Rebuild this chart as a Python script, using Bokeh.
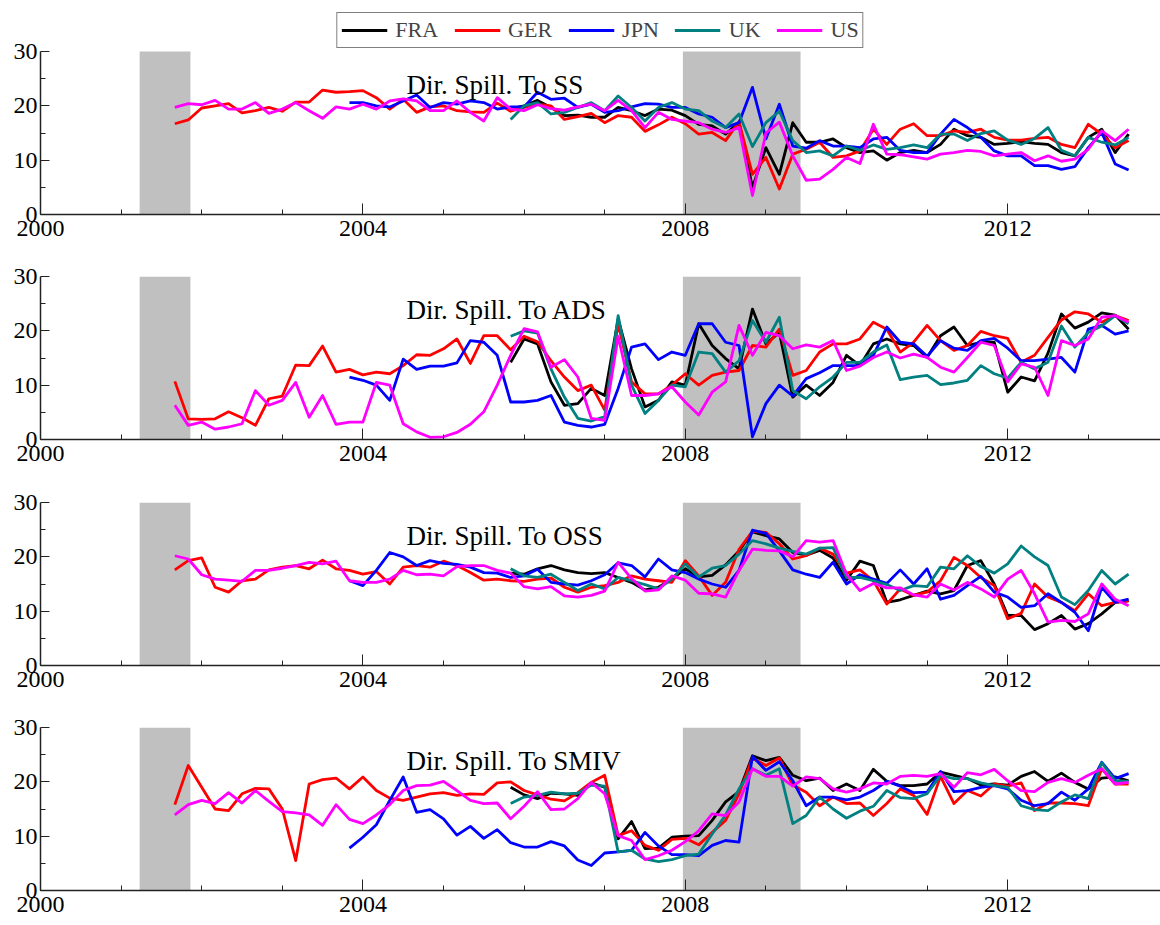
import numpy as np
from bokeh.plotting import figure
from bokeh.models import (Range1d, FixedTicker, PrintfTickFormatter, Legend,
                          LegendItem, Label, ColumnDataSource)
from bokeh.layouts import column
from bokeh.embed import file_html
from bokeh.resources import INLINE

# ---------------- data ----------------
countries = ["FRA", "GER", "JPN", "UK", "US"]
colors = ["#000000", "#ff0000", "#0000ff", "#008080", "#ff00ff"]
STEP = 2 / 12  # two-monthly readings
start_year = {"FRA": 2005 + 10 / 12, "GER": 2001 + 8 / 12, "JPN": 2003 + 10 / 12,
              "UK": 2005 + 10 / 12, "US": 2001 + 8 / 12}

rec_start = [2001.23, 2007.97]
rec_end = [2001.86, 2009.43]

panel_titles = ["Dir. Spill. To SS", "Dir. Spill. To ADS",
                "Dir. Spill. To OSS", "Dir. Spill. To SMIV"]
x_ticks = [2000, 2004, 2008, 2012]
x_minor = list(range(2000, 2015))
y_ticks = [0, 10, 20, 30]
y_minor = [5, 15, 25]

# Panel 1: SS
ss_fra = [19.5,20.0,21.0,19.7,18.2,18.3,17.9,17.9,19.7,19.1,18.2,19.4,19.2,18.2,16.6,16.3,14.8,16.9,5.0,12.3,7.4,16.9,13.3,13.3,13.9,12.3,11.4,11.7,10.0,11.4,11.8,11.4,12.9,15.7,14.5,14.2,12.9,13.1,13.4,13.1,12.9,11.4,10.8,14.2,15.7,11.4,14.8]
ss_ger = [16.7,17.4,19.6,20.0,20.4,18.7,19.1,19.7,19.0,20.7,20.7,22.9,22.5,22.6,22.8,21.5,19.4,21.2,18.8,19.8,20.0,19.1,18.9,18.8,20.5,19.0,19.7,20.3,20.0,17.5,18.0,18.6,16.9,18.2,17.9,15.3,16.5,17.9,16.7,14.8,15.1,13.6,17.1,7.4,10.5,4.7,11.1,12.0,13.3,10.5,10.8,11.7,15.7,12.9,15.7,16.7,14.5,14.5,15.4,15.1,15.7,14.2,13.7,13.7,14.0,14.2,12.9,12.3,16.6,14.8,12.3,13.6]
ss_jpn = [20.6,20.6,20.0,19.8,20.9,22.0,19.7,20.6,20.3,20.9,20.6,19.4,19.8,19.8,22.5,21.2,21.4,19.7,20.3,18.8,19.1,19.8,20.4,20.3,19.7,19.7,18.5,17.9,16.0,16.9,23.4,13.9,20.3,12.6,12.2,13.6,12.6,12.6,12.3,13.9,14.2,11.8,11.4,11.4,14.8,17.5,16.0,14.2,11.7,10.8,10.8,9.0,9.0,8.3,8.8,12.3,15.1,9.3,8.2]
ss_uk = [17.5,20.0,20.6,18.5,18.8,19.7,20.6,19.1,21.8,19.7,17.2,19.7,20.6,19.4,19.1,17.2,16.0,18.5,12.5,16.9,19.0,13.6,11.4,11.7,10.8,12.6,11.8,12.8,12.0,12.3,12.8,12.3,14.8,14.8,13.6,14.9,15.4,13.7,12.9,14.0,16.0,11.8,10.8,14.2,13.3,12.8,14.2]
ss_us = [19.7,20.4,20.2,21.0,19.4,19.4,20.6,18.6,19.4,20.6,19.1,17.7,19.8,19.4,20.3,19.4,20.9,21.3,20.9,19.1,19.1,20.9,18.8,17.2,21.5,19.4,19.1,20.2,19.5,19.2,19.8,20.3,19.1,21.0,19.1,16.0,18.8,17.5,17.2,16.9,15.7,15.1,16.0,3.5,15.0,17.0,10.8,6.3,6.5,8.3,10.5,9.4,16.6,11.1,11.0,10.6,10.2,11.1,11.4,11.8,11.6,10.8,11.1,11.4,9.9,10.8,9.8,10.2,12.0,15.4,13.6,15.7]

# Panel 2: ADS
ads_fra = [14.2,18.5,17.6,10.6,6.3,6.6,9.4,8.1,22.2,13.0,6.0,7.2,10.6,10.0,21.3,17.3,14.9,13.0,24.0,17.6,19.7,7.8,10.0,8.1,10.5,15.5,13.6,17.6,18.5,17.6,17.3,15.1,19.1,20.7,17.3,17.9,17.9,8.7,11.5,10.8,15.9,23.1,20.5,21.6,23.3,22.9,20.3]
ads_ger = [10.7,3.8,3.7,3.8,5.1,4.0,2.6,7.5,8.0,13.7,13.6,17.2,12.4,12.9,11.9,12.4,12.1,13.6,15.6,15.5,16.7,18.5,14.0,19.1,19.1,16.5,19.0,18.0,14.5,11.5,9.0,10.0,5.4,21.3,10.6,8.4,8.4,10.0,12.1,10.0,11.8,12.4,12.7,17.3,17.0,20.3,11.8,12.7,16.1,17.6,17.6,18.5,21.6,20.3,16.1,17.9,21.0,18.2,16.4,17.3,19.9,19.1,18.6,14.2,15.5,18.8,22.0,23.5,23.1,21.6,22.8,21.9]
ads_jpn = [11.5,10.9,10.0,7.2,14.8,12.9,13.5,13.5,14.1,18.2,17.9,15.5,6.9,6.9,7.2,8.1,3.2,2.6,2.3,2.8,9.4,17.0,17.6,14.7,16.1,15.5,21.3,21.3,17.9,17.3,0.5,6.6,10.0,8.0,11.2,12.3,13.6,13.6,13.6,15.5,20.7,17.9,17.6,15.3,18.2,16.8,16.4,18.2,18.6,16.8,14.5,14.5,14.8,15.1,12.4,20.3,21.0,19.4,20.0]
ads_uk = [19.0,20.0,19.6,13.0,7.8,3.9,3.4,4.2,22.8,10.0,4.8,7.2,10.0,9.7,16.1,15.8,12.4,14.5,21.9,17.9,22.5,9.0,7.5,9.7,11.5,14.2,14.2,16.1,17.4,11.0,11.5,11.8,10.1,10.4,10.9,13.6,12.1,11.3,14.2,13.0,14.2,20.9,17.0,19.7,20.9,22.8,21.3]
ads_us = [6.3,2.6,3.2,1.9,2.3,2.9,9.0,6.3,7.2,10.5,4.1,8.1,2.8,3.2,3.2,10.5,10.0,2.9,1.4,0.4,0.5,1.3,2.8,5.1,10.0,15.5,20.4,19.8,13.3,14.7,11.5,3.9,3.5,19.0,8.1,8.1,8.4,9.7,6.9,4.5,8.7,10.6,21.0,15.5,19.7,19.1,16.7,17.4,17.0,18.2,12.7,13.5,15.1,16.1,15.0,15.7,15.1,13.3,12.4,15.1,17.9,17.3,10.6,13.9,13.3,8.1,18.2,17.3,18.5,22.5,22.8,21.6]

# Panel 3: OSS
oss_fra = [17.0,16.8,17.8,18.4,17.6,17.1,16.9,17.1,16.2,15.3,13.9,14.4,15.9,17.8,16.3,16.6,18.5,21.1,24.6,23.9,23.3,20.8,20.3,21.2,19.8,15.7,19.2,18.4,11.6,12.1,12.9,13.7,13.2,13.8,18.4,19.3,15.0,9.2,9.2,6.6,7.7,9.2,6.7,7.7,9.5,11.6,11.9]
oss_ger = [17.6,19.3,19.8,14.4,13.5,15.6,15.9,17.6,18.1,18.4,17.8,19.4,17.8,17.5,16.8,17.3,15.0,18.1,18.4,18.1,19.2,18.4,17.1,15.7,15.9,15.6,15.5,15.9,16.1,14.4,13.5,14.4,14.7,15.3,16.5,15.9,15.6,15.3,19.3,16.5,12.9,15.3,21.4,24.7,24.5,22.4,19.6,20.2,21.6,20.5,17.0,17.6,15.6,11.3,14.1,12.9,13.5,15.6,19.9,18.4,16.2,14.7,8.6,9.6,15.0,12.6,11.6,10.1,13.2,11.0,11.6,11.9]
oss_jpn = [15.6,14.7,17.5,20.8,20.0,18.4,19.3,18.8,18.6,18.1,17.1,17.0,16.2,16.5,17.7,15.3,15.0,14.8,15.6,16.7,18.9,18.4,16.3,19.6,17.6,17.1,15.9,15.0,14.4,17.5,24.9,24.3,21.1,17.6,16.8,16.2,19.0,15.0,16.7,15.9,15.1,17.6,15.0,17.8,12.2,12.9,14.7,16.4,13.5,12.6,10.7,11.0,13.2,11.6,9.8,6.4,14.4,11.6,12.2]
oss_uk = [17.8,16.5,16.2,16.8,15.3,13.8,15.0,14.1,16.2,15.6,14.9,14.1,15.9,18.7,16.3,17.9,18.4,20.5,23.0,22.4,21.6,21.0,20.5,21.6,21.7,16.2,16.2,15.6,14.9,13.8,14.7,14.5,18.1,17.8,20.2,18.2,17.0,18.7,22.0,20.0,18.4,12.6,11.2,13.8,17.5,15.0,16.8]
oss_us = [20.2,19.6,16.7,15.9,15.7,15.5,17.5,17.5,17.9,18.4,19.0,18.7,19.2,15.6,15.3,15.3,15.9,17.5,16.7,16.8,16.5,18.2,18.4,18.4,17.5,17.0,14.5,14.1,14.5,12.8,12.6,12.9,13.7,19.0,16.0,13.7,13.9,16.5,15.7,13.3,13.2,12.6,17.5,21.4,21.2,21.1,20.0,23.0,22.7,23.0,16.8,13.8,15.1,14.3,14.3,13.0,12.6,15.0,13.9,15.3,14.1,12.6,15.9,17.5,13.2,8.0,8.3,8.1,9.5,15.0,12.2,11.0]

# Panel 4: SMIV
smiv_fra = [19.0,17.6,16.9,17.9,17.8,17.5,19.8,19.0,9.5,12.7,7.7,7.8,9.8,10.0,10.1,12.9,16.3,18.2,24.8,23.9,24.5,21.2,20.2,20.7,18.4,19.6,18.4,22.3,20.1,19.3,19.3,19.6,21.8,21.2,20.6,19.4,19.6,19.4,21.0,21.9,20.1,21.6,19.9,18.7,20.7,20.9,20.2]
smiv_ger = [15.8,23.0,19.0,15.0,14.7,17.8,18.8,18.7,15.0,5.5,19.6,20.4,20.7,18.7,20.9,18.4,17.0,16.6,17.2,17.8,18.0,17.5,17.8,17.7,19.8,20.0,18.4,17.6,16.8,16.5,18.0,19.9,21.2,10.1,11.0,8.3,7.4,9.4,9.6,8.4,10.7,12.9,17.8,24.4,23.0,24.4,19.4,18.1,15.6,17.2,16.0,16.1,13.8,16.0,18.7,17.5,14.0,21.0,16.0,18.4,17.4,19.6,19.2,19.8,14.7,16.1,16.1,16.0,15.6,22.4,19.6,19.6]
smiv_jpn = [7.8,9.8,12.1,16.6,20.9,14.4,14.9,13.2,10.2,11.8,9.6,11.2,8.8,8.0,8.0,9.0,8.2,5.6,4.6,6.9,7.1,7.4,10.7,8.2,6.6,6.6,6.4,8.3,9.2,8.9,24.7,22.1,23.7,20.2,15.6,17.2,17.2,16.7,17.2,18.4,20.1,19.2,18.0,18.1,21.9,18.2,18.4,19.0,19.3,18.7,16.6,15.6,16.0,18.1,16.6,18.7,23.6,20.6,21.5]
smiv_uk = [16.0,17.2,17.5,18.1,17.8,17.9,19.4,19.2,7.1,7.4,5.8,5.3,5.7,6.4,6.7,10.4,13.9,18.7,22.4,21.2,22.4,12.3,13.8,17.2,15.0,13.3,14.6,15.5,18.4,17.1,16.9,17.8,21.2,20.6,20.6,19.8,19.3,19.0,15.6,14.9,14.7,16.3,17.6,16.9,23.5,20.2,20.1]
smiv_us = [13.9,15.8,16.6,16.0,18.0,16.1,18.4,16.4,14.5,14.3,13.9,12.0,15.8,13.1,12.3,13.9,15.8,18.4,19.3,19.4,20.1,18.4,16.6,16.0,16.1,13.2,15.5,18.2,14.9,15.0,16.9,19.9,17.8,10.1,9.2,5.7,6.4,7.4,9.0,11.0,14.1,13.8,16.3,22.4,21.0,21.0,19.2,20.9,20.6,18.7,18.1,18.7,19.8,19.6,21.0,21.2,21.0,21.5,19.0,21.7,21.3,22.3,20.2,18.4,18.2,19.9,20.6,19.9,21.2,22.4,19.6,19.9]

panels = [
    [ss_fra, ss_ger, ss_jpn, ss_uk, ss_us],
    [ads_fra, ads_ger, ads_jpn, ads_uk, ads_us],
    [oss_fra, oss_ger, oss_jpn, oss_uk, oss_us],
    [smiv_fra, smiv_ger, smiv_jpn, smiv_uk, smiv_us],
]

# ---------------- layout / style ----------------
SERIF = "Liberation Serif"
FIG_W = 1160
LEFT = 40
FRAME_H = 163
LEGEND_H = 39                 # extra frame room in the first panel for the legend
TOPS = [12, 31, 31, 31]
BOTTOMS = [31, 32, 31, 34]
X_END = 2000 + 1120 / 80.6
TITLE_X = 2004.54
TITLE_Y = 23.8

figs = []
for k, series in enumerate(panels):
    fh = FRAME_H + (LEGEND_H if k == 0 else 0)
    ymax = 30.0 * fh / FRAME_H
    h = TOPS[k] + fh + BOTTOMS[k]
    p = figure(width=FIG_W, height=h, output_backend="svg", toolbar_location=None,
               x_range=Range1d(2000, X_END), y_range=Range1d(0, ymax),
               min_border_left=LEFT, min_border_right=0,
               min_border_top=TOPS[k], min_border_bottom=BOTTOMS[k],
               background_fill_color="white", border_fill_color="white")
    p.outline_line_color = None
    p.grid.visible = False

    p.quad(left=rec_start, right=rec_end, bottom=0, top=30,
           fill_color="#c0c0c0", line_color=None)

    rends = []
    for name, col, vals in zip(countries, colors, series):
        x = start_year[name] + STEP * np.arange(len(vals))
        src = ColumnDataSource(dict(x=x, y=np.array(vals, dtype=float)))
        r = p.line("x", "y", source=src, line_color=col, line_width=2.8,
                   line_join="round")
        rends.append(r)

    p.add_layout(Label(x=TITLE_X, y=TITLE_Y, text=panel_titles[k],
                       text_font=SERIF, text_font_size="27px",
                       text_color="black", text_baseline="alphabetic"))

    xa = p.xaxis[0]
    xa.ticker = FixedTicker(ticks=x_ticks, minor_ticks=x_minor)
    xa.formatter = PrintfTickFormatter(format="%d")
    xa.major_tick_in = 11
    xa.major_tick_out = 0
    xa.minor_tick_in = 5
    xa.minor_tick_out = 0
    xa.major_label_standoff = 6
    xa.major_label_text_font = SERIF
    xa.major_label_text_font_size = "24px"
    xa.major_label_text_color = "black"
    xa.axis_line_color = "#222222"
    xa.axis_line_width = 1.5
    xa.major_tick_line_color = "#222222"
    xa.minor_tick_line_color = "#222222"

    ya = p.yaxis[0]
    ya.ticker = FixedTicker(ticks=y_ticks, minor_ticks=y_minor)
    ya.formatter = PrintfTickFormatter(format="%d")
    ya.bounds = (0, 30)
    ya.major_tick_in = 9
    ya.major_tick_out = 0
    ya.minor_tick_in = 5
    ya.minor_tick_out = 0
    ya.major_label_standoff = 3
    ya.major_label_text_font = SERIF
    ya.major_label_text_font_size = "24px"
    ya.major_label_text_color = "black"
    ya.axis_line_color = "#222222"
    ya.axis_line_width = 1.5
    ya.major_tick_line_color = "#222222"
    ya.minor_tick_line_color = "#222222"

    if k == 0:
        items = [LegendItem(label=n, renderers=[r]) for n, r in zip(countries, rends)]
        leg = Legend(items=items, orientation="horizontal", location="top_center",
                     label_text_font=SERIF, label_text_font_size="22px",
                     glyph_width=46, glyph_height=20, label_standoff=8,
                     spacing=16, padding=4, margin=0,
                     border_line_color="black", border_line_width=1.2,
                     background_fill_color="white", background_fill_alpha=1.0)
        p.add_layout(leg, "center")
    figs.append(p)

layout = column(*figs, spacing=0)
open("out.html", "w").write(file_html(layout, INLINE))
